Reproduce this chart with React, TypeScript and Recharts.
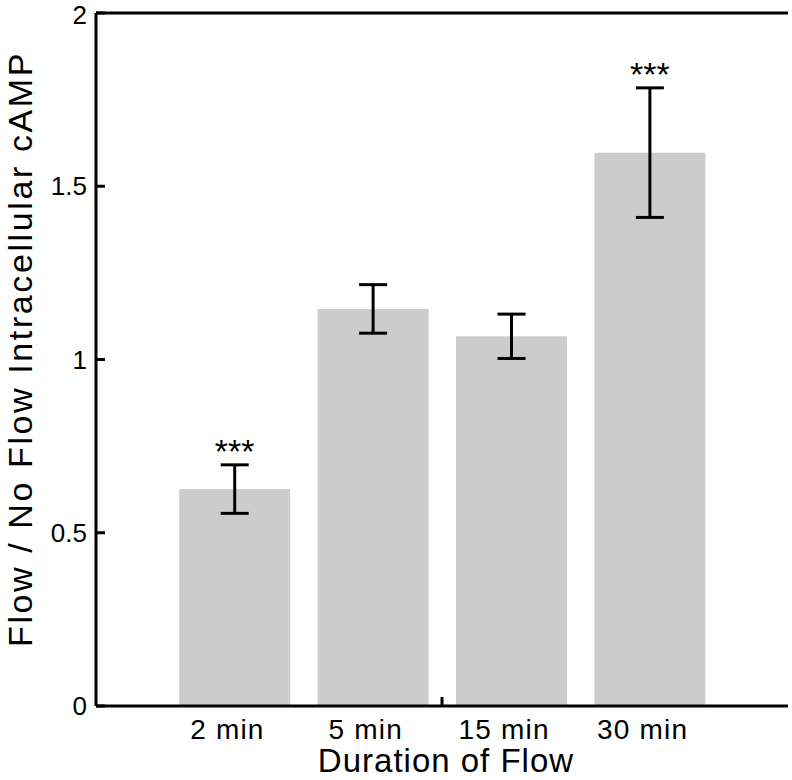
import { Bar, ComposedChart, ErrorBar, LabelList, ReferenceLine, XAxis, YAxis } from "recharts";

const categories = ["2 min", "5 min", "15 min", "30 min"];
const meanRatio = [0.626, 1.146, 1.067, 1.597];
const semRatio = [0.07, 0.07, 0.064, 0.187];
const significance = ["***", "", "", "***"];
const yTicks = [0, 0.5, 1, 1.5, 2];
// one inward tick sits between the 2nd and 3rd groups
const xTicks = [1, 2, 2.5, 3, 4];

const data = categories.map((label, i) => ({
  pos: i + 1,
  label,
  mean: meanRatio[i],
  err: semRatio[i],
  sig: significance[i],
}));

const FONT = '"Liberation Sans", Arial, Helvetica, sans-serif';
const X_TICK_MARGIN = 13;

function XTick(props: any) {
  const { x, y, payload } = props;
  const v = payload.value;
  if (!Number.isInteger(v)) {
    const axisY = y - X_TICK_MARGIN;
    return <line x1={x} x2={x} y1={axisY} y2={axisY - 9} stroke="#000" strokeWidth={3} />;
  }
  return (
    <text x={x - 7} y={y} dy={19.5} textAnchor="middle" fontSize={28} letterSpacing={1.2} fontFamily={FONT} fill="#000">
      {categories[v - 1]}
    </text>
  );
}

function StarLabel(props: any) {
  const vb = props.viewBox ?? props;
  const i = props.index;
  const d = data[i];
  if (!d || !d.sig) return null;
  const pxPerUnit = vb.height / d.mean;
  const errTop = vb.y - d.err * pxPerUnit;
  return (
    <text x={vb.x + vb.width / 2} y={errTop - 2} textAnchor="middle" fontSize={34} fontFamily={FONT} fill="#000">
      {d.sig}
    </text>
  );
}

export default function App() {
  return (
    <div style={{ position: "absolute", left: 0, top: 0, width: 792, height: 780, background: "#fff" }}>
      <ComposedChart width={792} height={780} data={data} margin={{ top: 13, right: 4, bottom: 0, left: 0 }}>
        <XAxis
          dataKey="pos"
          type="number"
          domain={[0, 5]}
          ticks={xTicks}
          interval={0}
          height={74}
          tickSize={0}
          tickMargin={X_TICK_MARGIN}
          tickLine={false}
          tick={<XTick />}
          axisLine={{ stroke: "#000", strokeWidth: 3 }}
          label={{
            value: "Duration of Flow",
            position: "insideBottom",
            offset: 8,
            dx: 4,
            fontSize: 33,
            letterSpacing: 1,
            fontFamily: FONT,
            fill: "#000",
          }}
        />
        <YAxis
          yAxisId="left"
          domain={[0, 2]}
          ticks={yTicks}
          width={96}
          tickSize={-9}
          tickMargin={18}
          tick={{ fontSize: 26, fontFamily: FONT, fill: "#000" }}
          tickLine={{ stroke: "#000", strokeWidth: 3 }}
          axisLine={{ stroke: "#000", strokeWidth: 3 }}
          label={{
            content: () => (
              <text
                x={32}
                y={349}
                transform="rotate(-90 32 349)"
                textAnchor="middle"
                fontSize={34}
                letterSpacing={2.6}
                fontFamily={FONT}
                fill="#000"
              >
                Flow / No Flow Intracellular cAMP
              </text>
            ),
          }}
        />
        <YAxis
          yAxisId="right"
          orientation="right"
          domain={[0, 2]}
          ticks={yTicks}
          width={0}
          tickSize={-9}
          tick={false}
          tickLine={{ stroke: "#000", strokeWidth: 3 }}
          axisLine={{ stroke: "#000", strokeWidth: 3 }}
        />
        <ReferenceLine yAxisId="left" y={2} stroke="#000" strokeWidth={3} />
        <Bar yAxisId="left" dataKey="mean" fill="#cccccc" barSize={111} isAnimationActive={false}>
          <ErrorBar dataKey="err" width={14} strokeWidth={3} stroke="#000" direction="y" />
          <LabelList dataKey="sig" content={<StarLabel />} />
        </Bar>
      </ComposedChart>
    </div>
  );
}
